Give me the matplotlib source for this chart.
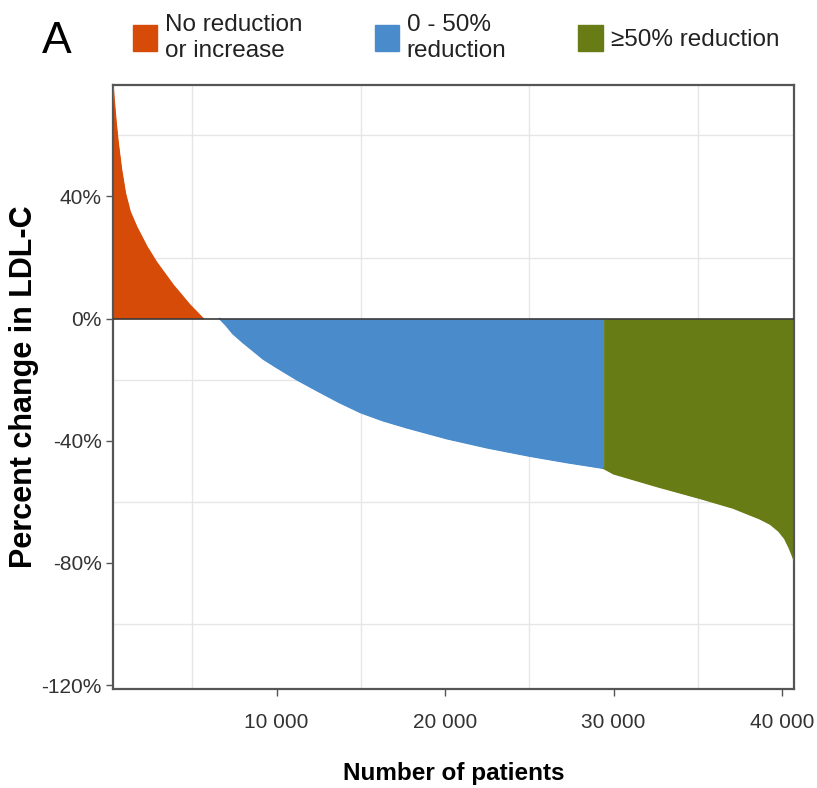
import matplotlib.pyplot as plt
from matplotlib.patches import Patch

# valeurs (patients tries, variation LDL-C en %)
orange_x = [290, 344, 470, 580, 783, 1020, 1300, 1690, 2300, 2860, 3850, 4840, 5630]
orange_y = [76, 72, 64, 58, 49, 41, 35, 30, 23.5, 18.5, 11, 4.5, 0]
blue_x = [6620, 7000, 7400, 8000, 8600, 9200, 10000, 11200, 12400, 13700, 15000,
          16300, 17700, 20100, 22500, 25000, 27200, 29400]
blue_y = [0, -2.2, -4.9, -7.8, -10.5, -13.2, -16, -20, -23.6, -27.4, -30.8,
          -33.4, -35.7, -39.3, -42.3, -45, -47.1, -49]
green_x = [29400, 30000, 32600, 35100, 37080, 38660, 39300, 39800, 40150, 40400, 40600, 40700]
green_y = [-49, -50.8, -55, -58.8, -62, -65.5, -67.3, -69.6, -72, -74.8, -77.5, -79]

labels = ["No reduction\nor increase", "0 - 50%\nreduction", "\u226550% reduction"]
colors = ["#D64B08", "#4A8CCB", "#687C15"]
xticks = [10000, 20000, 30000, 40000]
xticklabels = ["10 000", "20 000", "30 000", "40 000"]
yticks = [40, 0, -40, -80, -120]
yticklabels = ["40%", "0%", "-40%", "-80%", "-120%"]

fam = ["Liberation Sans", "DejaVu Sans"]

fig = plt.figure(figsize=(8.17, 7.88), dpi=100)
ax = fig.add_axes([113 / 817, 1 - 689 / 788, 681 / 817, 604 / 788])

for xs, ys, c in zip([orange_x, blue_x, green_x], [orange_y, blue_y, green_y], colors):
    ax.fill_between(xs, ys, 0, color=c, lw=0, zorder=2)
    ax.plot(xs, ys, color=c, lw=1.2, zorder=3)
ax.axhline(0, color="#3a3a3a", lw=1.2, zorder=4)

ax.set_xlim(290, 40700)
ax.set_ylim(-121.3, 76.5)
ax.set_xticks(xticks)
ax.set_xticklabels(xticklabels, family=fam, fontsize=15, color="#333333")
ax.set_yticks(yticks)
ax.set_yticklabels(yticklabels, family=fam, fontsize=15, color="#333333")
ax.set_xticks(range(5000, 40001, 5000), minor=True)
ax.set_yticks(range(-120, 61, 20), minor=True)
ax.grid(True, which="minor", color="#e6e6e6", lw=1)
ax.tick_params(which="minor", length=0)
ax.tick_params(which="major", length=5, width=1, color="#555555")
ax.tick_params(axis="x", pad=12)
ax.tick_params(axis="y", pad=3)
ax.set_axisbelow(True)
for s in ax.spines.values():
    s.set_color("#555555")
    s.set_linewidth(1.6)

ax.set_xlabel("Number of patients", family=fam, fontsize=17.5, fontweight="bold", labelpad=22)
ax.set_ylabel("Percent change in LDL-C", family=fam, fontsize=22, fontweight="bold", labelpad=2)

fig.text(0.051, 0.947, "A", family=fam, fontsize=32, va="center")
handles = [Patch(color=c) for c in colors]
leg = fig.legend(handles, labels, loc="center left", bbox_to_anchor=(0.136, 0.952), ncol=3,
                 frameon=False, handlelength=1.0, handleheight=1.3, handletextpad=0.33,
                 columnspacing=2.95, labelspacing=0.2, prop={"family": fam, "size": 17.5})
for t in leg.get_texts():
    t.set_linespacing(1.2)
    t.set_color("#222222")

fig.savefig("out.png", dpi=100)
